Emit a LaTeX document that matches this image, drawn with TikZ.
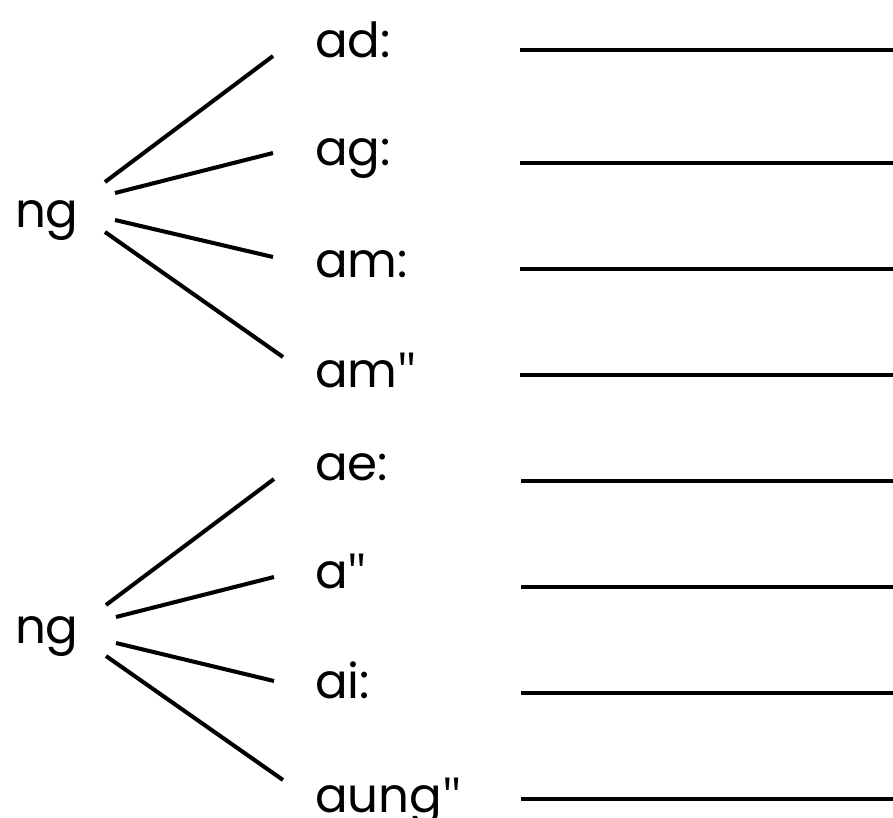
\documentclass[tikz,border=0pt]{standalone}
\usepackage{fontspec}
\setmainfont{Poppins}
\newfontfamily\quotefont{Open Sans}
\newcommand{\dq}{{\quotefont"}}
\usepackage{tikz}

\begin{document}
\begin{tikzpicture}[x=0.02cm, y=-0.02cm, line width=2.3pt, every node/.style={anchor=base west, inner sep=0pt, font=\fontsize{27.5}{32}\selectfont}]
   \useasboundingbox (0,0) rectangle (893,818);
   % first group
   \node (ngA) at (13,227) {ng};
   \node (ad) at (313,57) {ad:};
   \node (ag) at (313,165) {ag:};
   \node (amc) at (313,277) {am:};
   \node (amq) at (313,387) {am\dq};
   % second group
   \node (ngB) at (13,643) {ng};
   \node (ae) at (313,480) {ae:};
   \node (aq) at (313,588) {a\dq};
   \node (ai) at (313,698) {ai:};
   \node (aung) at (313,812) {aung\dq};

   % branch ends
   \coordinate (a1) at (105,182); \coordinate (a2) at (115,193);
   \coordinate (a3) at (115,220); \coordinate (a4) at (105,232);
   \coordinate (t1) at (273,56);  \coordinate (t2) at (273,153);
   \coordinate (t3) at (273,257); \coordinate (t4) at (283,357);
   \coordinate (b1) at (106,605); \coordinate (b2) at (116,617);
   \coordinate (b3) at (116,643); \coordinate (b4) at (106,656);
   \coordinate (u1) at (274,479); \coordinate (u2) at (274,577);
   \coordinate (u3) at (274,681); \coordinate (u4) at (283,780);

   \draw (a1) -- (t1); \draw (a2) -- (t2);
   \draw (a3) -- (t3); \draw (a4) -- (t4);
   \draw (b1) -- (u1); \draw (b2) -- (u2);
   \draw (b3) -- (u3); \draw (b4) -- (u4);

   % answer lines
   \coordinate (s1) at (520,50);  \coordinate (e1) at (893,50);
   \coordinate (s2) at (520,163); \coordinate (e2) at (893,163);
   \coordinate (s3) at (520,269); \coordinate (e3) at (893,269);
   \coordinate (s4) at (520,375); \coordinate (e4) at (893,375);
   \coordinate (s5) at (521,481); \coordinate (e5) at (893,481);
   \coordinate (s6) at (521,587); \coordinate (e6) at (893,587);
   \coordinate (s7) at (521,693); \coordinate (e7) at (893,693);
   \coordinate (s8) at (521,799); \coordinate (e8) at (893,799);
   \draw (s1) -- (e1); \draw (s2) -- (e2);
   \draw (s3) -- (e3); \draw (s4) -- (e4);
   \draw (s5) -- (e5); \draw (s6) -- (e6);
   \draw (s7) -- (e7); \draw (s8) -- (e8);
\end{tikzpicture}
\end{document}
